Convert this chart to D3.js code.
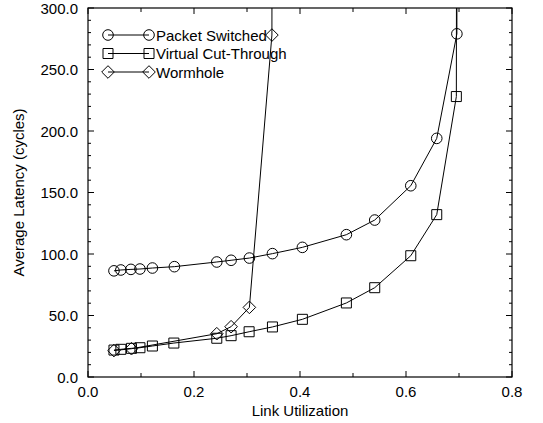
<!DOCTYPE html>
<html>
<head>
<meta charset="utf-8">
<script src="https://cdn.jsdelivr.net/npm/d3@7"></script>
<style>
  body { margin: 0; background: #fff; }
  svg { display: block; }
  text { font-family: "Liberation Sans", Arial, Helvetica, sans-serif; fill: #000; }
</style>
</head>
<body>
<svg id="chart" width="543" height="423"></svg>
<script>
// ---- data ----
const seriesNames = ["Packet Switched", "Virtual Cut-Through", "Wormhole"];

const psX = [0.049, 0.062, 0.081, 0.098, 0.1215, 0.163, 0.243, 0.270, 0.3045, 0.348, 0.4045, 0.4875, 0.541, 0.609, 0.658, 0.696, 0.698];
const psY = [86.3, 87.0, 87.5, 87.8, 88.6, 89.7, 93.5, 94.9, 96.7, 100.3, 105.4, 115.7, 127.6, 155.5, 194.0, 279.0, 1000];

const vctX = [0.049, 0.062, 0.082, 0.098, 0.1215, 0.162, 0.243, 0.270, 0.304, 0.348, 0.4045, 0.4875, 0.541, 0.609, 0.658, 0.695, 0.697];
const vctY = [21.9, 22.5, 23.3, 23.8, 25.2, 27.6, 31.5, 33.6, 36.8, 40.7, 46.9, 60.2, 72.6, 98.6, 132.0, 228.0, 1000];

const whX = [0.049, 0.082, 0.243, 0.270, 0.3045, 0.347, 0.349];
const whY = [21.5, 23.0, 35.2, 40.9, 56.6, 278.0, 1000];

const xTicks = [0.0, 0.2, 0.4, 0.6, 0.8];
const yTicks = [0, 50, 100, 150, 200, 250, 300];

const xTitle = "Link Utilization";
const yTitle = "Average Latency (cycles)";

// ---- layout ----
const L = 88, R = 512, T = 8, B = 377;
const svg = d3.select("#chart");
const x = d3.scaleLinear().domain([0, 0.8]).range([L, R]);
const y = d3.scaleLinear().domain([0, 300]).range([B, T]);

svg.append("defs").append("clipPath").attr("id", "clip")
  .append("rect").attr("x", L).attr("y", T).attr("width", R - L).attr("height", B - T);

// ticks (inward on all four sides)
const xMinor = d3.range(0, 0.81, 0.1);
const yMinor = d3.range(0, 301, 10);
const g = svg.append("g").attr("stroke", "#000").attr("stroke-width", 1);
xMinor.forEach(v => {
  const major = xTicks.some(t => Math.abs(t - v) < 1e-9);
  const len = major ? 6 : 4;
  g.append("line").attr("x1", x(v)).attr("x2", x(v)).attr("y1", B).attr("y2", B - len);
  g.append("line").attr("x1", x(v)).attr("x2", x(v)).attr("y1", T).attr("y2", T + len);
});
yMinor.forEach(v => {
  const major = yTicks.some(t => Math.abs(t - v) < 1e-9);
  const len = major ? 6 : 3;
  g.append("line").attr("y1", y(v)).attr("y2", y(v)).attr("x1", L).attr("x2", L + len);
  g.append("line").attr("y1", y(v)).attr("y2", y(v)).attr("x1", R).attr("x2", R - len);
});

// frame
svg.append("rect").attr("x", L).attr("y", T).attr("width", R - L).attr("height", B - T)
  .attr("fill", "none").attr("stroke", "#000").attr("stroke-width", 1.2);

// tick labels
svg.append("g").selectAll("text").data(xTicks).join("text")
  .attr("x", d => x(d)).attr("y", 397).attr("text-anchor", "middle")
  .attr("font-size", 15).text(d => d.toFixed(1));
svg.append("g").selectAll("text").data(yTicks).join("text")
  .attr("x", 78).attr("y", d => y(d) + 5.5).attr("text-anchor", "end")
  .attr("font-size", 15).text(d => d.toFixed(1));

// axis titles
svg.append("text").attr("x", x(0.4)).attr("y", 416).attr("text-anchor", "middle")
  .attr("font-size", 15).text(xTitle);
svg.append("text").attr("transform", `translate(24,${(T + B) / 2}) rotate(-90)`)
  .attr("text-anchor", "middle").attr("font-size", 15).text(yTitle);

// markers
const squareDiamond = {
  draw(ctx, size) {
    const r = Math.sqrt(size / 2);
    ctx.moveTo(0, -r); ctx.lineTo(r, 0); ctx.lineTo(0, r); ctx.lineTo(-r, 0); ctx.closePath();
  }
};
const sym = [
  d3.symbol().type(d3.symbolCircle).size(Math.PI * 5.3 * 5.3),
  d3.symbol().type(d3.symbolSquare).size(10 * 10),
  d3.symbol().type(squareDiamond).size(2 * 6.3 * 6.3)
];
const series = [
  { name: seriesNames[0], xs: psX, ys: psY },
  { name: seriesNames[1], xs: vctX, ys: vctY },
  { name: seriesNames[2], xs: whX, ys: whY }
];
const line = d3.line().x(d => x(d[0])).y(d => y(d[1]));
const plot = svg.append("g").attr("clip-path", "url(#clip)");
series.forEach((s, i) => {
  const pts = s.xs.map((v, k) => [v, s.ys[k]]);
  plot.append("path").attr("d", line(pts)).attr("fill", "none")
    .attr("stroke", "#000").attr("stroke-width", 1);
  plot.selectAll(null).data(pts.filter(p => p[1] <= 300)).join("path")
    .attr("d", sym[i]).attr("transform", p => `translate(${x(p[0])},${y(p[1])})`)
    .attr("fill", "none").attr("stroke", "#000").attr("stroke-width", 1);
});

// legend
const lg = svg.append("g");
series.forEach((s, i) => {
  const yy = 35 + i * 18.5;
  lg.append("line").attr("x1", 108).attr("x2", 149).attr("y1", yy).attr("y2", yy)
    .attr("stroke", "#000").attr("stroke-width", 1);
  [108, 149].forEach(xx => lg.append("path").attr("d", sym[i])
    .attr("transform", `translate(${xx},${yy})`).attr("fill", "none")
    .attr("stroke", "#000").attr("stroke-width", 1));
  lg.append("text").attr("x", 156).attr("y", yy + 5.5).attr("font-size", 15).text(s.name);
});
</script>
</body>
</html>
